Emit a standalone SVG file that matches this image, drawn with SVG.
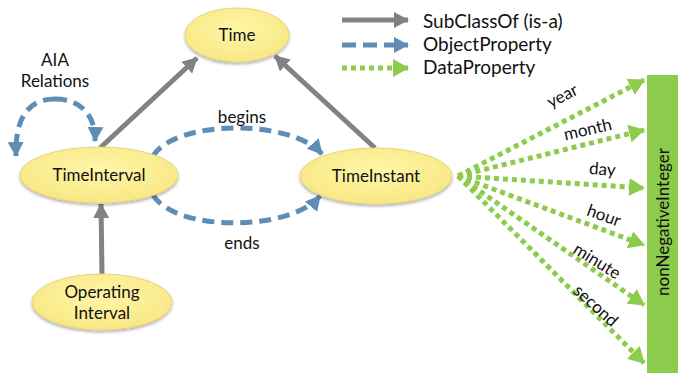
<svg xmlns="http://www.w3.org/2000/svg" width="678" height="373" viewBox="0 0 678 373">
<defs>
<radialGradient id="yg" cx="0.5" cy="0.4" r="0.6">
<stop offset="0" stop-color="#FFF6A8"/>
<stop offset="1" stop-color="#F8E784"/>
</radialGradient>
<filter id="sh" x="-20%" y="-20%" width="140%" height="150%">
<feDropShadow dx="0" dy="2" stdDeviation="1.5" flood-color="#000" flood-opacity="0.3"/>
</filter>
<marker id="ag" markerUnits="userSpaceOnUse" markerWidth="18" markerHeight="18" refX="14" refY="8" orient="auto">
<path d="M0,0 L15,8 L0,16 Z" fill="#828282"/>
</marker>
<marker id="ab" markerUnits="userSpaceOnUse" markerWidth="18" markerHeight="18" refX="14" refY="8" orient="auto">
<path d="M0,0 L15,8 L0,16 Z" fill="#5F8DB6"/>
</marker>
<marker id="agr" markerUnits="userSpaceOnUse" markerWidth="18" markerHeight="20" refX="15" refY="9" orient="auto">
<path d="M0,0 L16,9 L0,18 Z" fill="#8CCB4B"/>
</marker>
</defs>
<style>
.n{fill:url(#yg);stroke:#E6D47A;stroke-width:1;filter:url(#sh)}
.t{font-family:Lato,"Liberation Sans",sans-serif;font-size:17px;fill:#111;text-anchor:middle}
.l{font-family:Lato,"Liberation Sans",sans-serif;font-size:19px;fill:#111}
.sub{fill:none;stroke:#828282;stroke-width:5;marker-end:url(#ag)}
.obj{fill:none;stroke:#5F8DB6;stroke-width:5;stroke-dasharray:12 7;marker-end:url(#ab)}
.dat{fill:none;stroke:#8CCB4B;stroke-width:5;stroke-dasharray:5 4;marker-end:url(#agr)}
</style>
<g id="connectors">
<line class="sub" x1="100" y1="148" x2="197" y2="58"/>
<line class="sub" x1="375" y1="148" x2="275" y2="56"/>
<line class="sub" x1="102" y1="275" x2="101" y2="204"/>
<path class="obj" d="M153,156 C175,120 290,118 322,154"/>
<path class="obj" d="M153,195 C175,232 290,232 320,196"/>
<path class="obj" d="M55,99 C80,99 96,115 95,141"/>
<path class="obj" d="M55,99 C30,99 15,115 16,156"/>
<line class="dat" x1="458" y1="176" x2="644" y2="80"/>
<line class="dat" x1="458" y1="176" x2="644" y2="130"/>
<line class="dat" x1="458" y1="176" x2="644" y2="188"/>
<line class="dat" x1="458" y1="176" x2="644" y2="245"/>
<line class="dat" x1="458" y1="176" x2="644" y2="305"/>
<line class="dat" x1="458" y1="176" x2="644" y2="363"/>
<text class="t" x="55" y="66">AIA</text>
<text class="t" x="55" y="87">Relations</text>
<text class="t" x="242" y="123">begins</text>
<text class="t" x="242" y="249">ends</text>
<text class="t" transform="translate(565,101) rotate(-27)">year</text>
<text class="t" transform="translate(589,135) rotate(-13)">month</text>
<text class="t" transform="translate(602,175) rotate(4)">day</text>
<text class="t" transform="translate(602,221) rotate(20)">hour</text>
<text class="t" transform="translate(594,266) rotate(32)">minute</text>
<text class="t" transform="translate(592,310) rotate(42)">second</text>
</g>
<g id="legend">
<line class="sub" x1="342" y1="20" x2="408" y2="20"/>
<line class="obj" x1="342" y1="45" x2="408" y2="45" style="stroke-dasharray:14 7"/>
<line class="dat" x1="342" y1="68" x2="408" y2="68"/>
<text class="l" x="423" y="28">SubClassOf (is-a)</text>
<text class="l" x="423" y="51">ObjectProperty</text>
<text class="l" x="423" y="74">DataProperty</text>
</g>
<g id="Time">
<ellipse class="n" cx="237" cy="35" rx="52" ry="27"/>
<text class="t" x="237" y="41">Time</text>
</g>
<g id="TimeInterval">
<ellipse class="n" cx="99" cy="175" rx="79" ry="28"/>
<text class="t" x="99" y="181">TimeInterval</text>
</g>
<g id="TimeInstant">
<ellipse class="n" cx="376" cy="176" rx="76" ry="28"/>
<text class="t" x="376" y="182">TimeInstant</text>
</g>
<g id="OperatingInterval">
<ellipse class="n" cx="102" cy="302" rx="70" ry="28"/>
<text class="t" x="102" y="298">Operating</text>
<text class="t" x="102" y="319">Interval</text>
</g>
<g id="nonNegativeInteger">
<rect x="647" y="75" width="31" height="298" fill="#8CCB4B"/>
<text class="t" transform="translate(669,222) rotate(-90)">nonNegativeInteger</text>
</g>
</svg>
